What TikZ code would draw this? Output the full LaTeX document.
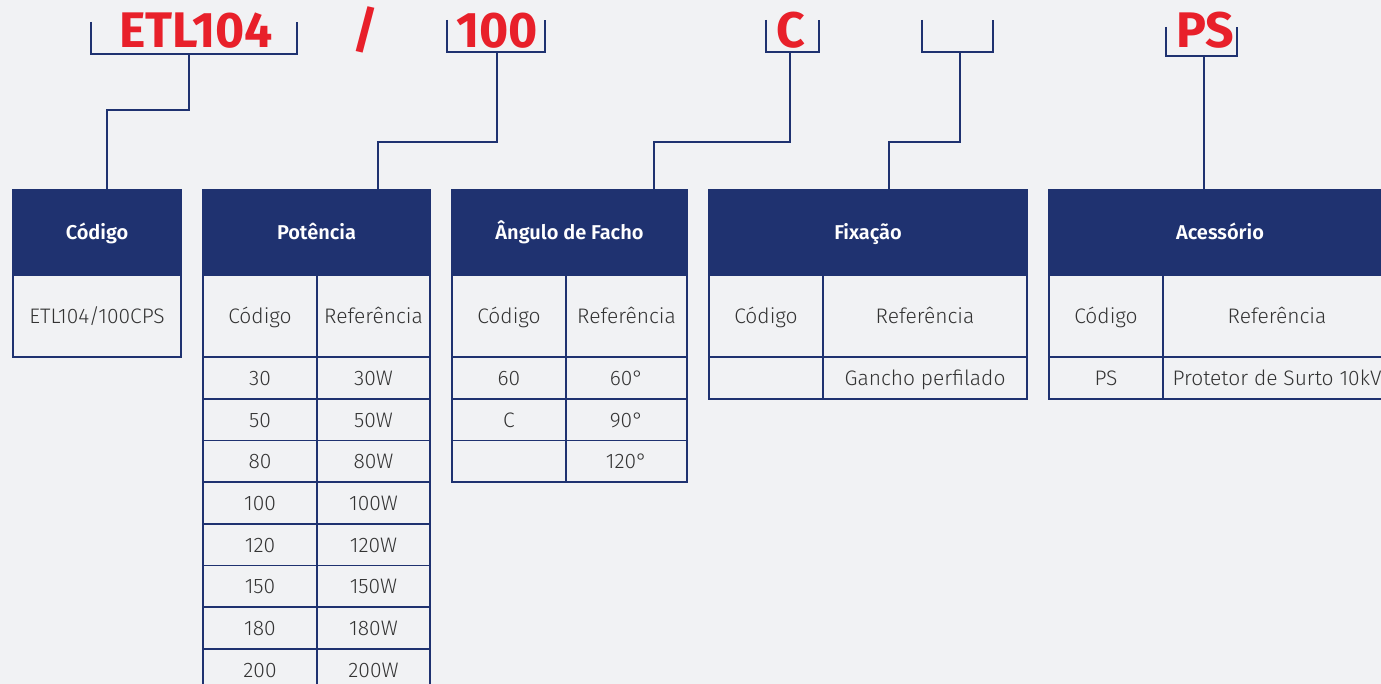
\documentclass[tikz,border=0pt]{standalone}
\usepackage{fontspec}
\setmainfont{Fira Sans}[UprightFont=* Light, BoldFont=* SemiBold]
\newfontfamily\codefont{Fira Sans}
\definecolor{navy}{HTML}{1F3270}
\definecolor{codered}{HTML}{E8202A}
\definecolor{bgc}{HTML}{F1F2F4}
\definecolor{txt}{HTML}{333333}

\begin{document}
\begin{tikzpicture}[
    % Global styles
    x=1pt, y=-1pt,
    codetext/.style={text=codered, font=\codefont\fontsize{50}{50}\selectfont\bfseries, inner sep=0pt, anchor=base},
    bracket/.style={draw=navy, line width=2.2pt},
    link/.style={draw=navy, line width=2.2pt},
    head/.style={draw=navy, fill=navy, text=white, font=\fontsize{20}{20}\selectfont\bfseries,
        text height=14pt, text depth=0pt,
        line width=1.6pt, inner sep=0pt, outer sep=0pt, anchor=north west, minimum height=85pt},
    cell/.style={draw=navy, fill=bgc, text=txt, font=\fontsize{21}{21}\selectfont,
        text height=15pt, text depth=0pt,
        line width=1.6pt, inner sep=0pt, outer sep=0pt, anchor=north west},
    subcell/.style={cell, minimum height=82pt},
    rowcell/.style={cell, minimum height=41.7pt}
    ]
    % Background and frame
    \fill[bgc] (0,0) rectangle (1381,684);
    \clip (0,0) rectangle (1381,684);

    % ===========================
    % CODE LINE
    % ===========================

    % Red code parts
    \node[codetext] (kETL) at (196,48) {ETL104};
    \node[codetext] (kSlash) at (365,48) {/};
    \node[codetext] (kPot) at (497,48) {100};
    \node[codetext] (kAng) at (791,48) {C};
    \node[codetext] (kAcc) at (1205,48) {PS};

    % Brackets under the parts
    \draw[bracket] (91,22) -- (91,54) -- (297,54) -- (297,22);
    \draw[bracket] (447,20) -- (447,52) -- (545,52) -- (545,20);
    \draw[bracket] (766,20) -- (766,52) -- (819,52) -- (819,20);
    \draw[bracket] (922,20) -- (922,52) -- (993,52) -- (993,20);
    \draw[bracket] (1166,27) -- (1166,56) -- (1237,56) -- (1237,27);

    % Stem points
    \coordinate (sETL) at (189,54);
    \coordinate (sPot) at (497,52);
    \coordinate (sAng) at (790,52);
    \coordinate (sFix) at (960,52);
    \coordinate (sAcc) at (1204,56);

    % ===========================
    % TABLES
    % ===========================

    % Código
    \node[head, minimum width=168pt] (hCod) at (13,190) {Código};
    \node[subcell, minimum width=168pt] (cCod) at (13,275) {ETL104/100CPS};

    % Potência
    \node[head, minimum width=227pt] (hPot) at (203,190) {Potência};
    \node[subcell, minimum width=114pt] (pCod) at (203,275) {Código};
    \node[subcell, minimum width=113pt] (pRef) at (317,275) {Referência};
    \foreach \v [count=\i] in {30,50,80,100,120,150,180,200} {
        \node[rowcell, minimum width=114pt] (pc\i) at (203,{357+(\i-1)*41.7}) {\v};
        \node[rowcell, minimum width=113pt] (pr\i) at (317,{357+(\i-1)*41.7}) {\v W};
    }

    % Ângulo de Facho
    \node[head, minimum width=235pt] (hAng) at (452,190) {Ângulo de Facho};
    \node[subcell, minimum width=114pt] (aCod) at (452,275) {Código};
    \node[subcell, minimum width=121pt] (aRef) at (566,275) {Referência};
    \foreach \c/\r [count=\i] in {60/60°, C/90°, /120°} {
        \node[rowcell, minimum width=114pt] (ac\i) at (452,{357+(\i-1)*41.7}) {\c};
        \node[rowcell, minimum width=121pt] (ar\i) at (566,{357+(\i-1)*41.7}) {\r};
    }

    % Fixação
    \node[head, minimum width=318pt] (hFix) at (709,190) {Fixação};
    \node[subcell, minimum width=114pt] (fCod) at (709,275) {Código};
    \node[subcell, minimum width=204pt] (fRef) at (823,275) {Referência};
    \node[rowcell, minimum width=114pt] (fc1) at (709,357) {};
    \node[rowcell, minimum width=204pt] (fr1) at (823,357) {Gancho perfilado};

    % Acessório (runs past the right edge)
    \node[head, minimum width=342pt] (hAcc) at (1049,190) {Acessório};
    \node[subcell, minimum width=114pt] (sCodA) at (1049,275) {Código};
    \node[subcell, minimum width=228pt] (sRefA) at (1163,275) {Referência};
    \node[rowcell, minimum width=114pt] (xc1) at (1049,357) {PS};
    \node[rowcell, minimum width=228pt] (xr1) at (1163,357) {Protetor de Surto 10kV};

    % ===========================
    % LINKS
    % ===========================
    \draw[link] (sETL) -- ++(0,56) -| ([xshift=94pt]hCod.north west);
    \draw[link] (sPot) -- ++(0,90) -| ([xshift=175pt]hPot.north west);
    \draw[link] (sAng) -- ++(0,90) -| ([xshift=202pt]hAng.north west);
    \draw[link] (sFix) -- ++(0,90) -| ([xshift=180pt]hFix.north west);
    \draw[link] (sAcc) -- (sAcc |- hAcc.north);

\end{tikzpicture}
\end{document}
